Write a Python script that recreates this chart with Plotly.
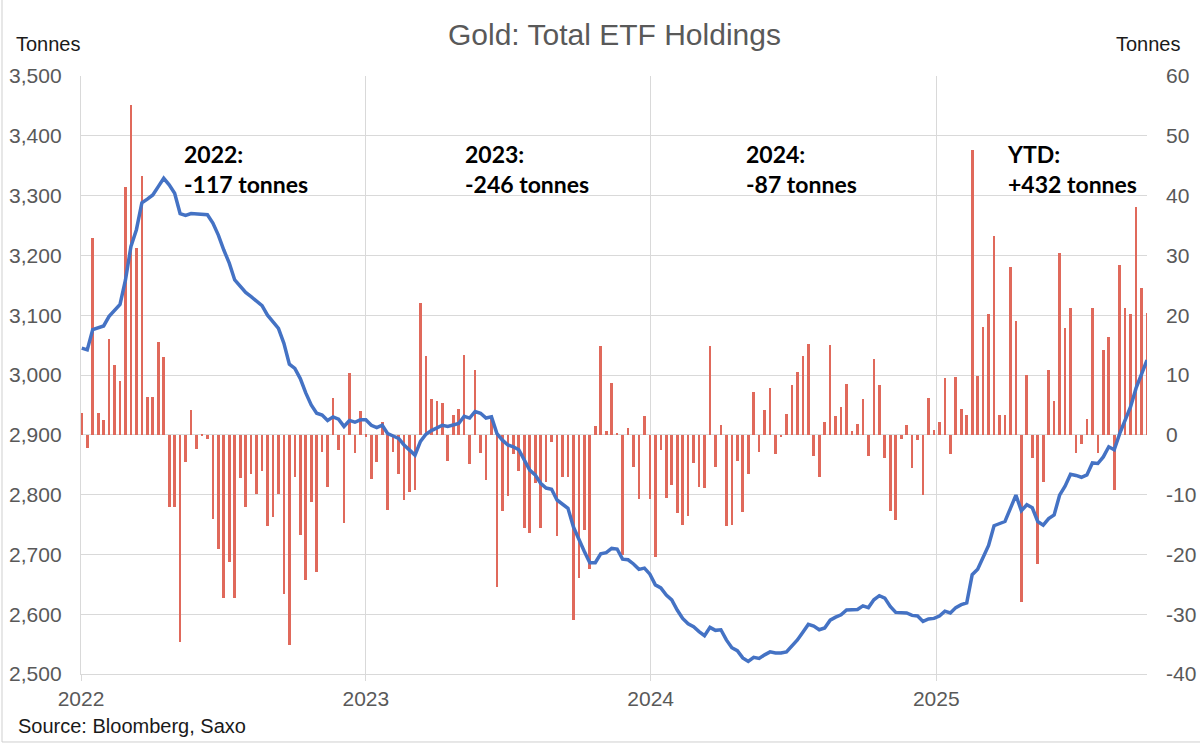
import pandas as pd
import plotly.graph_objects as go

# Weekly ETF flows (tonnes, right axis)
flows = [
    3.7, -2.2, 32.9, 3.6, 2.4, 16.0, 11.7, 9.0, 41.5, 55.2, 31.2, 43.2, 6.4, 6.4, 15.6, 13.0,
    -12.1, -12.1, -34.6, -4.6, 4.1, -2.3, -0.2, -0.7, -14.0, -19.1, -27.3, -21.2, -27.3, -7.3,
    -12.1, -6.6, -9.9, -6.0, -15.3, -13.8, -9.9, -26.6, -35.2, -7.1, -16.8, -24.2, -11.3, -23.0,
    -2.8, -8.7, 6.1, -2.5, -14.7, 10.3, -3.1, 3.9,
    -0.3, -7.4, -4.5, 2.2, -12.5, -2.8, -6.6, -10.9, -9.6, -9.2, 22.0, 13.1, 6.0, 5.7, 5.3, -4.3,
    3.3, 4.3, 13.3, -4.9, 10.9, -3.1, -7.5, 2.8, -25.4, -12.7, -10.3, -3.2, -6.0, -15.6, -16.4,
    -8.0, -15.6, -7.9, -1.2, -17.0, -7.1, -7.1, -30.9, -24.0, -16.0, -22.4, 1.4, 14.8, 0.7, 8.6,
    0.3, -20.1, 1.2, -5.4, -10.8, 3.1,
    -10.8, -20.5, -2.5, -10.6, -8.4, -13.0, -15.1, -13.5, -4.7, -8.8, -8.9, 14.9, -5.4, 1.6,
    -15.3, -15.1, -4.3, -12.9, -6.6, 7.1, -2.8, 4.1, 7.9, -3.2, -0.4, 3.5, 8.4, 10.5, 13.1, 15.2,
    -3.5, -7.1, 2.2, 15.1, 3.2, 4.7, 8.5, 0.6, 1.8, 6.0, -3.6, 12.7, 8.4, -3.8, -12.7, -14.2,
    -0.7, 1.7, -5.6, -0.8, -10.0, 6.1,
    0.8, 2.1, 9.5, -3.2, 9.6, 4.3, 3.3, 47.7, 9.9, 18.1, 20.2, 33.3, 3.3, 3.3, 28.0, 19.1, -28.0,
    10.0, -3.9, -21.6, -7.9, 10.9, 5.7, 30.4, 17.8, 21.2, -3.1, -1.6, 2.6, 21.2, -3.1, 14.2, 16.4,
    -9.3, 28.4, 21.2, 20.2, 38.1, 24.5, 20.3,
]

# Total ETF holdings (tonnes, left axis)
holdings = [
    3045, 3042, 3076, 3079, 3082, 3098, 3109, 3118, 3159, 3215, 3243, 3288, 3294, 3301, 3315, 3329,
    3318, 3304, 3270, 3267, 3270, 3269, 3269, 3268, 3254, 3234, 3209, 3187, 3159, 3149, 3138, 3131,
    3124, 3116, 3100, 3089, 3078, 3053, 3018, 3011, 2994, 2970, 2950, 2936, 2933, 2924, 2930, 2926,
    2914, 2924, 2921, 2925,
    2925, 2916, 2912, 2916, 2902, 2898, 2894, 2883, 2875, 2866, 2889, 2901, 2907, 2912, 2916, 2914,
    2916, 2919, 2931, 2928, 2939, 2936, 2928, 2930, 2902, 2891, 2883, 2880, 2875, 2858, 2841, 2833,
    2819, 2811, 2809, 2791, 2784, 2777, 2746, 2724, 2705, 2686, 2686, 2701, 2703, 2710, 2709, 2692,
    2691, 2684, 2675, 2677,
    2667, 2649, 2644, 2632, 2624, 2607, 2593, 2584, 2579, 2571, 2564, 2578, 2573, 2574, 2557, 2544,
    2539, 2527, 2521, 2528, 2526, 2532, 2537, 2535, 2535, 2537, 2547, 2557, 2570, 2583, 2580, 2574,
    2577, 2590, 2595, 2599, 2607, 2607, 2608, 2614, 2611, 2624, 2631, 2627, 2613, 2603, 2603, 2602,
    2598, 2597, 2588, 2592,
    2593, 2597, 2605, 2602, 2611, 2616, 2619, 2666, 2675, 2696, 2715, 2748, 2751, 2755, 2777, 2799,
    2773, 2783, 2778, 2755, 2749, 2760, 2766, 2799, 2814, 2834, 2832, 2829, 2833, 2853, 2852, 2863,
    2880, 2875, 2902, 2925, 2947, 2978, 3003, 3025,
]

dates = pd.date_range("2022-01-02", periods=len(flows), freq="7D")

year_ticks = ["2022-01-01", "2023-01-01", "2024-01-01", "2025-01-01"]
year_labels = ["2022", "2023", "2024", "2025"]
left_ticks = list(range(2500, 3501, 100))
right_ticks = list(range(-40, 61, 10))

year_notes = ["2022:<br>-117 tonnes", "2023:<br>-246 tonnes", "2024:<br>-87 tonnes", "YTD:<br>+432 tonnes"]
note_x = [0.0947, 0.3583, 0.622, 0.8668]

GRID = "#D9D9D9"
TICKC = "#595959"
TXT = "#1a1a1a"

fig = go.Figure()
fig.add_trace(go.Bar(
    x=dates, y=flows, yaxis="y",
    marker=dict(color="#E0695B", line=dict(width=0)),
    width=3.4 * 86400000, name="Weekly flows",
))
fig.add_trace(go.Scatter(
    x=dates, y=holdings, yaxis="y2", mode="lines",
    line=dict(color="#4472C4", width=3.5), name="Holdings",
))

ann = []
for xp, txt in zip(note_x, year_notes):
    ann.append(dict(x=xp, xref="paper", y=0.8445, yref="paper", text=txt, showarrow=False,
                    xanchor="left", yanchor="middle", align="left",
                    font=dict(family="Lato", size=23, color="black", weight="bold")))
ann += [
    dict(x=0.5, y=1.0702, xref="paper", yref="paper", text="Gold: Total ETF Holdings", showarrow=False,
         xanchor="center", yanchor="middle", font=dict(family="Liberation Sans", size=30, color=TICKC)),
    dict(x=-0.063, y=1.0535, xref="paper", yref="paper", text="Tonnes", showarrow=False,
         xanchor="left", yanchor="middle", font=dict(family="Liberation Sans", size=20, color=TXT)),
    dict(x=1.0338, y=1.0535, xref="paper", yref="paper", text="Tonnes", showarrow=False,
         xanchor="right", yanchor="middle", font=dict(family="Liberation Sans", size=20, color=TXT)),
    dict(x=-0.061, y=-0.087, xref="paper", yref="paper", text="Source: Bloomberg, Saxo", showarrow=False,
         xanchor="left", yanchor="middle", font=dict(family="Liberation Sans", size=20, color=TXT)),
]

fig.update_layout(
    width=1200, height=744,
    margin=dict(l=81, r=53, t=76, b=70, autoexpand=False),
    paper_bgcolor="white", plot_bgcolor="white",
    showlegend=False, bargap=0,
    xaxis=dict(type="date", range=["2022-01-01", "2025-09-28"], automargin=False,
               tickvals=year_ticks, ticktext=year_labels,
               showgrid=True, gridcolor=GRID, gridwidth=1.3,
               showline=True, linecolor=GRID, linewidth=1.3,
               ticks="outside", ticklen=6, tickcolor=GRID, ticklabelstandoff=0,
               tickfont=dict(family="Liberation Sans", size=21, color=TICKC)),
    yaxis=dict(side="right", range=[-40, 60], tickvals=right_ticks, automargin=False,
               ticktext=[str(v) for v in right_ticks],
               showgrid=True, gridcolor=GRID, gridwidth=1.3, zeroline=False,
               ticks="", ticklabelstandoff=18,
               tickfont=dict(family="Liberation Sans", size=21, color=TICKC)),
    yaxis2=dict(side="left", overlaying="y", range=[2500, 3500], tickvals=left_ticks,
                automargin=False,
                tickformat=",d", showgrid=False, zeroline=False,
                showline=True, linecolor=GRID, linewidth=1.3,
                ticks="", ticklabelstandoff=14,
                tickfont=dict(family="Liberation Sans", size=21, color=TICKC)),
    annotations=ann,
    shapes=[
        dict(type="line", xref="paper", yref="paper", x0=-0.0741, x1=-0.0741, y0=-0.1137, y1=1.13,
             line=dict(color="#CFCFCF", width=1)),
        dict(type="line", xref="paper", yref="paper", x0=-0.0741, x1=1.05, y0=-0.1137, y1=-0.1137,
             line=dict(color="#CFCFCF", width=1)),
    ],
)

fig.write_html("out.html", config={"displayModeBar": False},
               post_script="document.body.style.margin='0';document.body.style.overflow='hidden';")
